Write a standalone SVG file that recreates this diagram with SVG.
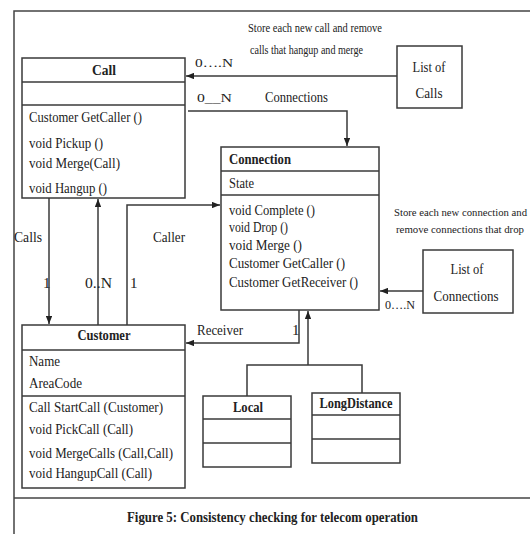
<svg xmlns="http://www.w3.org/2000/svg" width="530" height="534" viewBox="0 0 530 534">
<style>
.bg{fill:#fff}
.box{fill:#fff;stroke:#3a3a3a;stroke-width:1.5}
.sep{stroke:#3a3a3a;stroke-width:1.5}
.ln{fill:none;stroke:#3a3a3a;stroke-width:1.5}
.frame{fill:none;stroke:#444;stroke-width:1.5}
text{font-family:"Liberation Serif","Times New Roman",serif;fill:#222;font-size:15px}
.b{font-weight:bold}
.m{text-anchor:middle}
.s{font-size:12px}
.xs{font-size:10.5px}
</style>
<defs>
<marker id="ah" viewBox="0 0 10 8" refX="10" refY="4" markerWidth="8" markerHeight="6.4" orient="auto" markerUnits="userSpaceOnUse">
<path d="M0,0 L10,4 L0,8 Z" fill="#222"/>
</marker>
</defs>
<rect class="bg" x="0" y="0" width="530" height="534"/>
<g id="frame">
<path class="frame" d="M530,11 H14 V534"/>
<path class="frame" d="M14,498 H530"/>
</g>
<g id="connectors">
<path class="ln" d="M397,76 H186" marker-end="url(#ah)"/>
<path class="ln" d="M188,111 H347 V146" marker-end="url(#ah)"/>
<path class="ln" d="M49,198 V324" marker-end="url(#ah)"/>
<path class="ln" d="M98,325 V199" marker-end="url(#ah)"/>
<path class="ln" d="M127,325 V205 H220" marker-end="url(#ah)"/>
<path class="ln" d="M299,310 V343 H186" marker-end="url(#ah)"/>
<path class="ln" d="M423,291 H380" marker-end="url(#ah)"/>
<path class="ln" d="M308,365 V311" marker-end="url(#ah)"/>
<path class="ln" d="M247,396 V365 H362 V393"/>
<text class="s" x="195" y="67" textLength="38" lengthAdjust="spacingAndGlyphs">0….N</text>
<text class="s" x="197" y="102" textLength="35" lengthAdjust="spacingAndGlyphs">0__N</text>
<text x="265" y="102" textLength="63" lengthAdjust="spacingAndGlyphs">Connections</text>
<text x="14" y="242" textLength="28" lengthAdjust="spacingAndGlyphs">Calls</text>
<text x="43" y="288">1</text>
<text x="85" y="288" textLength="27" lengthAdjust="spacingAndGlyphs">0..N</text>
<text x="153" y="242" textLength="32" lengthAdjust="spacingAndGlyphs">Caller</text>
<text x="130" y="288">1</text>
<text x="197" y="335" textLength="46" lengthAdjust="spacingAndGlyphs">Receiver</text>
<text x="292" y="335">1</text>
<text class="s" x="385" y="309" textLength="30" lengthAdjust="spacingAndGlyphs">0….N</text>
</g>
<g id="note-calls">
<text class="s" x="248" y="32" textLength="134" lengthAdjust="spacingAndGlyphs">Store each new call and remove</text>
<text class="s" x="250" y="54" textLength="113" lengthAdjust="spacingAndGlyphs">calls that hangup and merge</text>
</g>
<g id="note-connections">
<text class="xs" x="394" y="216" textLength="133" lengthAdjust="spacingAndGlyphs">Store each new connection and</text>
<text class="xs" x="396" y="233" textLength="128" lengthAdjust="spacingAndGlyphs">remove connections that drop</text>
</g>
<g id="list-of-calls">
<rect class="box" x="397" y="46" width="65" height="62"/>
<text class="m" x="429" y="72" textLength="33" lengthAdjust="spacingAndGlyphs">List of</text>
<text class="m" x="429" y="98" textLength="27" lengthAdjust="spacingAndGlyphs">Calls</text>
</g>
<g id="list-of-connections">
<rect class="box" x="423" y="250" width="90" height="63"/>
<text class="m" x="467" y="274" textLength="33" lengthAdjust="spacingAndGlyphs">List of</text>
<text class="m" x="466" y="301" textLength="65" lengthAdjust="spacingAndGlyphs">Connections</text>
</g>
<g id="call">
<rect class="box" x="22" y="58" width="163" height="140"/>
<line class="sep" x1="22" y1="82" x2="185" y2="82"/>
<line class="sep" x1="22" y1="105" x2="185" y2="105"/>
<text class="b m" x="104" y="75" textLength="24" lengthAdjust="spacingAndGlyphs">Call</text>
<text x="29" y="122" textLength="113" lengthAdjust="spacingAndGlyphs">Customer GetCaller ()</text>
<text x="29" y="148" textLength="74" lengthAdjust="spacingAndGlyphs">void Pickup ()</text>
<text x="29" y="168" textLength="91" lengthAdjust="spacingAndGlyphs">void Merge(Call)</text>
<text x="29" y="193" textLength="78" lengthAdjust="spacingAndGlyphs">void Hangup ()</text>
</g>
<g id="connection">
<rect class="box" x="221" y="147" width="158" height="163"/>
<line class="sep" x1="221" y1="171" x2="379" y2="171"/>
<line class="sep" x1="221" y1="195" x2="379" y2="195"/>
<text class="b" x="229" y="164" textLength="62" lengthAdjust="spacingAndGlyphs">Connection</text>
<text x="229" y="188" textLength="25" lengthAdjust="spacingAndGlyphs">State</text>
<text x="229" y="215" textLength="86" lengthAdjust="spacingAndGlyphs">void Complete ()</text>
<text x="229" y="232" textLength="59" lengthAdjust="spacingAndGlyphs">void Drop ()</text>
<text x="229" y="250" textLength="73" lengthAdjust="spacingAndGlyphs">void Merge ()</text>
<text x="229" y="268" textLength="116" lengthAdjust="spacingAndGlyphs">Customer GetCaller ()</text>
<text x="229" y="287" textLength="129" lengthAdjust="spacingAndGlyphs">Customer GetReceiver ()</text>
</g>
<g id="customer">
<rect class="box" x="22" y="325" width="163" height="163"/>
<line class="sep" x1="22" y1="350" x2="185" y2="350"/>
<line class="sep" x1="22" y1="396" x2="185" y2="396"/>
<text class="b m" x="104" y="340" textLength="53" lengthAdjust="spacingAndGlyphs">Customer</text>
<text x="29" y="366" textLength="31" lengthAdjust="spacingAndGlyphs">Name</text>
<text x="29" y="388" textLength="53" lengthAdjust="spacingAndGlyphs">AreaCode</text>
<text x="29" y="412" textLength="134" lengthAdjust="spacingAndGlyphs">Call StartCall (Customer)</text>
<text x="29" y="434" textLength="104" lengthAdjust="spacingAndGlyphs">void PickCall (Call)</text>
<text x="29" y="458" textLength="144" lengthAdjust="spacingAndGlyphs">void MergeCalls (Call,Call)</text>
<text x="29" y="478" textLength="123" lengthAdjust="spacingAndGlyphs">void HangupCall (Call)</text>
</g>
<g id="local">
<rect class="box" x="203" y="396" width="88" height="71"/>
<line class="sep" x1="203" y1="419" x2="291" y2="419"/>
<line class="sep" x1="203" y1="443" x2="291" y2="443"/>
<text class="b m" x="248" y="412" textLength="30" lengthAdjust="spacingAndGlyphs">Local</text>
</g>
<g id="longdistance">
<rect class="box" x="312" y="393" width="88" height="70"/>
<line class="sep" x1="312" y1="415" x2="400" y2="415"/>
<line class="sep" x1="312" y1="439" x2="400" y2="439"/>
<text class="b m" x="356" y="408" textLength="73" lengthAdjust="spacingAndGlyphs">LongDistance</text>
</g>
<g id="caption">
<text class="b" x="127" y="522" textLength="291" lengthAdjust="spacingAndGlyphs">Figure 5: Consistency checking for telecom operation</text>
</g>
</svg>
